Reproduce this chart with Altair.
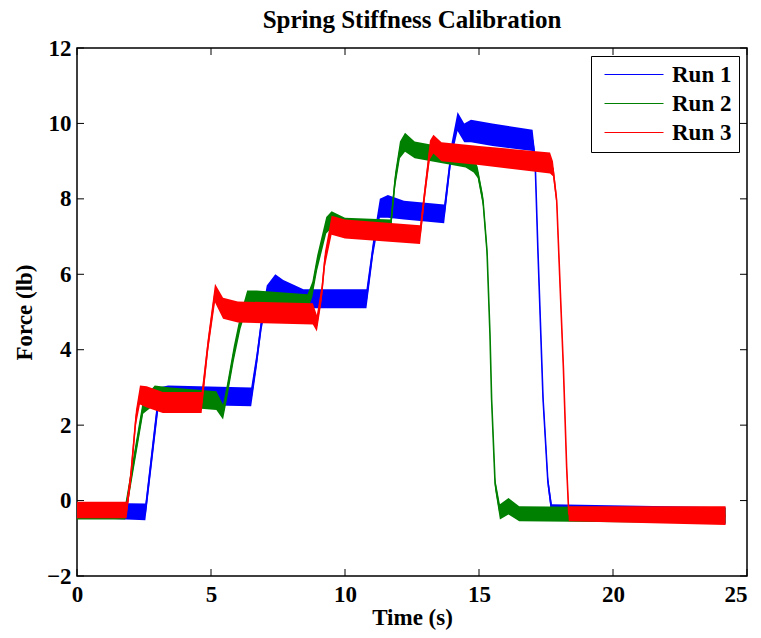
import altair as alt
import pandas as pd

# ---- data (time s, centre force lb, noise half-width lb) ----
run1_t = [0, 2.55, 3.05, 3.4, 6.5, 6.7, 6.89, 7.08, 7.4, 7.7, 8.45, 10.8, 11.05, 11.3, 11.6, 12.2, 13.7, 13.98, 14.2, 14.45, 14.7, 15.5, 17.0, 17.09, 17.2, 17.39, 17.57, 17.72, 24.2]
run1_c = [-0.25, -0.3, 2.75, 2.8, 2.75, 3.7, 4.75, 5.45, 5.75, 5.6, 5.35, 5.35, 6.7, 7.75, 7.8, 7.7, 7.6, 9.3, 10.05, 9.75, 9.8, 9.7, 9.55, 9.1, 6.6, 2.7, 0.5, -0.3, -0.4]
run1_h = [0.2, 0.22, 0.25, 0.25, 0.25, 0.2, 0.2, 0.25, 0.25, 0.25, 0.25, 0.25, 0.2, 0.25, 0.3, 0.25, 0.25, 0.2, 0.25, 0.25, 0.3, 0.3, 0.28, 0.15, 0.15, 0.15, 0.15, 0.2, 0.22]

run2_t = [0, 1.8, 2.47, 2.9, 3.5, 5.2, 5.45, 5.6, 5.85, 6.1, 6.35, 6.7, 8.6, 8.78, 8.96, 9.3, 9.5, 10.0, 11.7, 11.87, 12.05, 12.24, 12.6, 14.5, 14.8, 14.95, 15.15, 15.3, 15.41, 15.47, 15.6, 15.78, 16.1, 16.5, 24.2]
run2_c = [-0.3, -0.3, 2.5, 2.8, 2.75, 2.65, 2.35, 2.9, 3.9, 4.75, 5.35, 5.35, 5.25, 5.6, 6.3, 7.3, 7.45, 7.3, 7.25, 8.5, 9.3, 9.5, 9.3, 9.05, 8.9, 8.7, 7.95, 6.6, 4.4, 2.7, 0.45, -0.3, -0.15, -0.35, -0.4]
run2_h = [0.2, 0.2, 0.2, 0.25, 0.25, 0.25, 0.2, 0.2, 0.2, 0.2, 0.22, 0.22, 0.22, 0.2, 0.2, 0.22, 0.22, 0.2, 0.2, 0.2, 0.22, 0.25, 0.22, 0.22, 0.2, 0.15, 0.15, 0.15, 0.15, 0.15, 0.15, 0.2, 0.22, 0.2, 0.2]

run3_t = [0, 1.85, 2.0, 2.2, 2.35, 2.6, 3.2, 4.65, 4.89, 5.15, 5.45, 6.0, 8.8, 8.95, 9.13, 9.25, 9.5, 10.0, 12.8, 12.99, 13.17, 13.3, 13.6, 15.0, 17.65, 17.76, 17.9, 18.02, 18.15, 18.27, 18.35, 24.2]
run3_c = [-0.25, -0.25, 0.6, 2.2, 2.8, 2.75, 2.6, 2.6, 4.15, 5.5, 5.1, 5.0, 4.95, 4.7, 5.5, 6.4, 7.3, 7.2, 7.05, 8.25, 9.3, 9.45, 9.25, 9.15, 8.95, 8.8, 7.95, 5.8, 3.5, 0.9, -0.35, -0.4]
run3_h = [0.22, 0.22, 0.2, 0.2, 0.25, 0.28, 0.28, 0.28, 0.2, 0.25, 0.28, 0.28, 0.28, 0.22, 0.2, 0.2, 0.25, 0.25, 0.25, 0.2, 0.25, 0.25, 0.25, 0.25, 0.28, 0.2, 0.15, 0.15, 0.15, 0.15, 0.2, 0.25]

runs = ["Run 1", "Run 2", "Run 3"]
colors = ["#0000ff", "#008000", "#ff0000"]

x_ticks = [0, 5, 10, 15, 20, 25]
y_ticks = [-2, 0, 2, 4, 6, 8, 10, 12]

FONT = "Liberation Serif"
W, H = 670, 528


def frame(name, t, c, h):
    return pd.DataFrame({
        "run": name, "t": t, "c": c,
        "lo": [ci - hi for ci, hi in zip(c, h)],
        "hi": [ci + hi for ci, hi in zip(c, h)],
    })


df = pd.concat([
    frame(runs[0], run1_t, run1_c, run1_h),
    frame(runs[1], run2_t, run2_c, run2_h),
    frame(runs[2], run3_t, run3_c, run3_h),
])

text_style = dict(labelFont=FONT, labelFontSize=23, labelFontWeight="bold", labelColor="black",
                  titleFont=FONT, titleFontSize=23, titleFontWeight="bold", titleColor="black")
xscale = alt.Scale(domain=[0, 25], nice=False, zero=False)
yscale = alt.Scale(domain=[-2, 12], nice=False, zero=False)
xaxis = alt.Axis(values=x_ticks, title="Time (s)", ticks=False, domain=False, grid=False,
                 labelPadding=7, titlePadding=0, labelFlush=False,
                 labelAlign={"condition": {"test": "datum.value >= 25", "value": "right"}, "value": "center"},
                 **text_style)
yaxis = alt.Axis(values=y_ticks, title="Force (lb)", ticks=False, domain=False, grid=False,
                 labelPadding=6, titlePadding=10, labelFlush=False, **text_style)
cscale = alt.Scale(domain=runs, range=colors)

legend = alt.Legend(
    title=None, orient="top-right", offset=8, symbolType="M-0.5,0H5.4",
    symbolSize=400, symbolStrokeWidth=1.2, labelFont=FONT, labelFontSize=23,
    labelFontWeight="bold", labelColor="black", labelOffset=51,
    padding=7, rowPadding=5, strokeColor="black", fillColor="white")

layers = []
for name, col in zip(runs, colors):
    sub = df[df["run"] == name]
    area = alt.Chart(sub).mark_area(color=col, opacity=1).encode(
        x=alt.X("t:Q", scale=xscale, axis=xaxis),
        y=alt.Y("lo:Q", scale=yscale, axis=yaxis, stack=None),
        y2="hi:Q",
    )
    line = alt.Chart(sub).mark_line(strokeWidth=1.6).encode(
        x=alt.X("t:Q", scale=xscale, axis=xaxis),
        y=alt.Y("c:Q", scale=yscale, axis=yaxis),
        color=alt.Color("run:N", scale=cscale, legend=legend),
    )
    layers += [area, line]

xt = pd.DataFrame({"v": x_ticks})
yt = pd.DataFrame({"v": y_ticks})
tick_style = dict(color="black", strokeWidth=1)
ticks = [
    alt.Chart(xt).mark_rule(**tick_style).encode(x=alt.X("v:Q", scale=xscale, axis=xaxis), y=alt.value(H), y2=alt.value(H - 7)),
    alt.Chart(xt).mark_rule(**tick_style).encode(x=alt.X("v:Q", scale=xscale, axis=xaxis), y=alt.value(0), y2=alt.value(7)),
    alt.Chart(yt).mark_rule(**tick_style).encode(y=alt.Y("v:Q", scale=yscale, axis=yaxis), x=alt.value(0), x2=alt.value(7)),
    alt.Chart(yt).mark_rule(**tick_style).encode(y=alt.Y("v:Q", scale=yscale, axis=yaxis), x=alt.value(W), x2=alt.value(W - 7)),
]

chart = alt.layer(*layers, *ticks).properties(
    width=W, height=H, background="white",
    title=alt.TitleParams("Spring Stiffness Calibration", font=FONT, fontSize=25,
                          fontWeight="bold", color="black", anchor="middle", offset=4),
    autosize=alt.AutoSizeParams(type="none"),
    padding={"left": 69, "top": 40, "right": 6, "bottom": 54},
).configure_view(stroke="black", strokeWidth=1.5)

chart.save("out.html", embed_options={"renderer": "svg", "actions": False})
